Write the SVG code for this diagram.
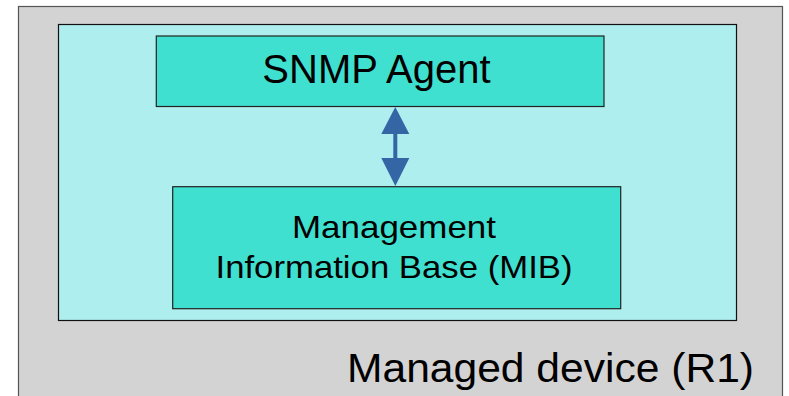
<svg xmlns="http://www.w3.org/2000/svg" width="789" height="396" viewBox="0 0 789 396">
<style>
.t{font-family:"Liberation Sans",Arial,sans-serif;fill:#000}
.box{fill:#40e0d0;stroke:#222;stroke-width:1.2}
</style>
<rect x="0" y="0" width="789" height="396" fill="#ffffff"/>
<g id="device">
<rect x="18.5" y="6.5" width="764" height="400" fill="#d3d3d3" stroke="#555" stroke-width="1.2"/>
<rect x="58.5" y="24.5" width="678" height="296" fill="#afeeee" stroke="#111" stroke-width="1.2"/>
<text class="t" x="347" y="381.7" font-size="41" textLength="407" lengthAdjust="spacingAndGlyphs">Managed device (R1)</text>
</g>
<g id="agent">
<rect class="box" x="156.3" y="36" width="447.7" height="70.5"/>
<text class="t" x="376.5" y="82.5" font-size="40" text-anchor="middle">SNMP Agent</text>
</g>
<g id="mib">
<rect class="box" x="172.7" y="186.7" width="448" height="122"/>
<text class="t" x="394" y="238" font-size="32" text-anchor="middle" textLength="204" lengthAdjust="spacingAndGlyphs">Management</text>
<text class="t" x="394" y="277.5" font-size="32" text-anchor="middle" textLength="357" lengthAdjust="spacingAndGlyphs">Information Base (MIB)</text>
</g>
<g id="connectors" fill="#3465a4">
<rect x="393.3" y="133" width="4" height="26"/>
<polygon points="395.3,107 409.3,134 381.3,134"/>
<polygon points="395.3,186 409.3,158 381.3,158"/>
</g>
</svg>
